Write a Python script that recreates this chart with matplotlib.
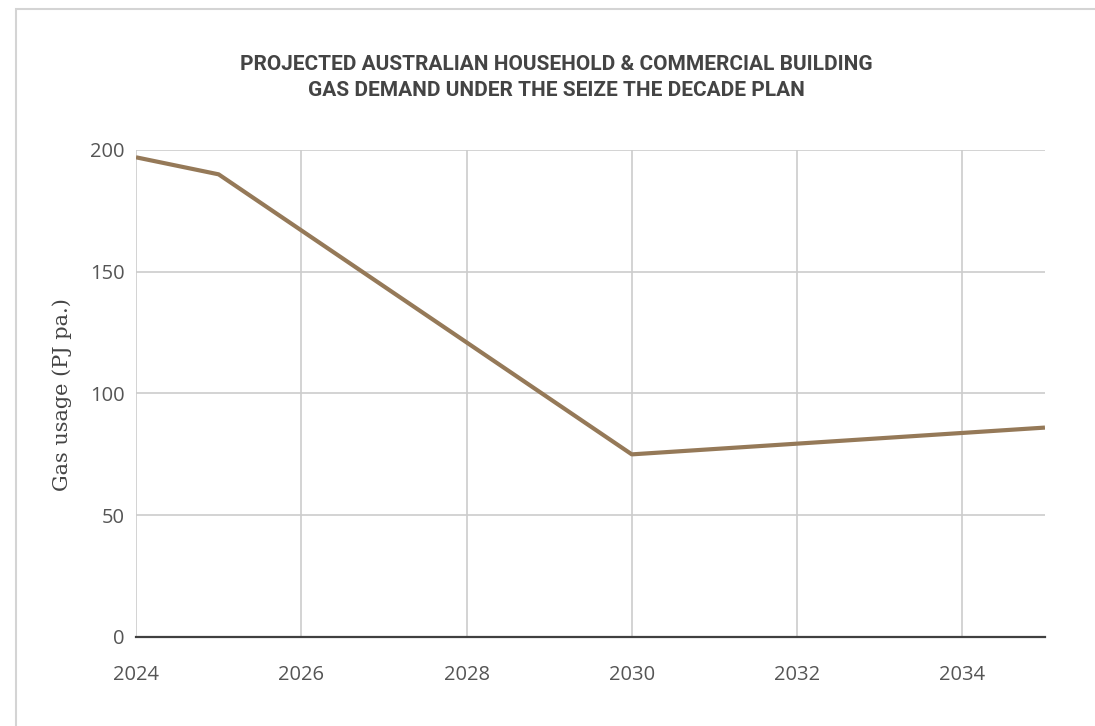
import matplotlib.pyplot as plt
import matplotlib.patches as patches

## values
years = [2024, 2025, 2030, 2035]
gas_usage = [197, 190, 75, 86]
x_ticks = [2024, 2026, 2028, 2030, 2032, 2034]
y_ticks = [0, 50, 100, 150, 200]

LINE_COLOR = "#957958"
GRID_COLOR = "#cccccc"
TEXT_COLOR = "#555555"

fig = plt.figure(figsize=(10.95, 7.26), dpi=100)
ax = fig.add_axes([0.1242, 0.1226, 0.8301, 0.6708])

ax.plot(years, gas_usage, color=LINE_COLOR, linewidth=3.0, solid_capstyle="butt", zorder=3)

ax.set_xlim(2024, 2035)
ax.set_ylim(0, 200)
ax.set_xticks(x_ticks)
ax.set_yticks(y_ticks)
ax.tick_params(length=0, labelsize=14.5, labelcolor=TEXT_COLOR)
ax.tick_params(axis="y", pad=8)
ax.tick_params(axis="x", pad=20)
for lbl in ax.get_xticklabels() + ax.get_yticklabels():
    lbl.set_family("Open Sans")

ax.grid(True, color=GRID_COLOR, linewidth=1.2)
for s in ["top", "right", "left"]:
    ax.spines[s].set_visible(False)
ax.spines["bottom"].set_color("#404040")
ax.spines["bottom"].set_linewidth(1.6)
ax.spines["bottom"].set_zorder(4)

fig.text(0.057, 0.457, "Gas usage (PJ pa.)", rotation=90, ha="center", va="center",
         fontsize=15, color="#444444", family="DejaVu Serif")

fig.text(0.508, 0.893, "PROJECTED AUSTRALIAN HOUSEHOLD & COMMERCIAL BUILDING\nGAS DEMAND UNDER THE SEIZE THE DECADE PLAN",
         ha="center", va="center", fontsize=15, fontweight="bold", color="#444444",
         family="Roboto", linespacing=1.45)

## outer card border
border = patches.Rectangle((16 / 1095, -0.1), 1.2, 1.1 - 9 / 726, transform=fig.transFigure,
                           fill=False, edgecolor="#d4d4d4", linewidth=1.5)
fig.patches.append(border)

fig.savefig("out.png", dpi=100)
